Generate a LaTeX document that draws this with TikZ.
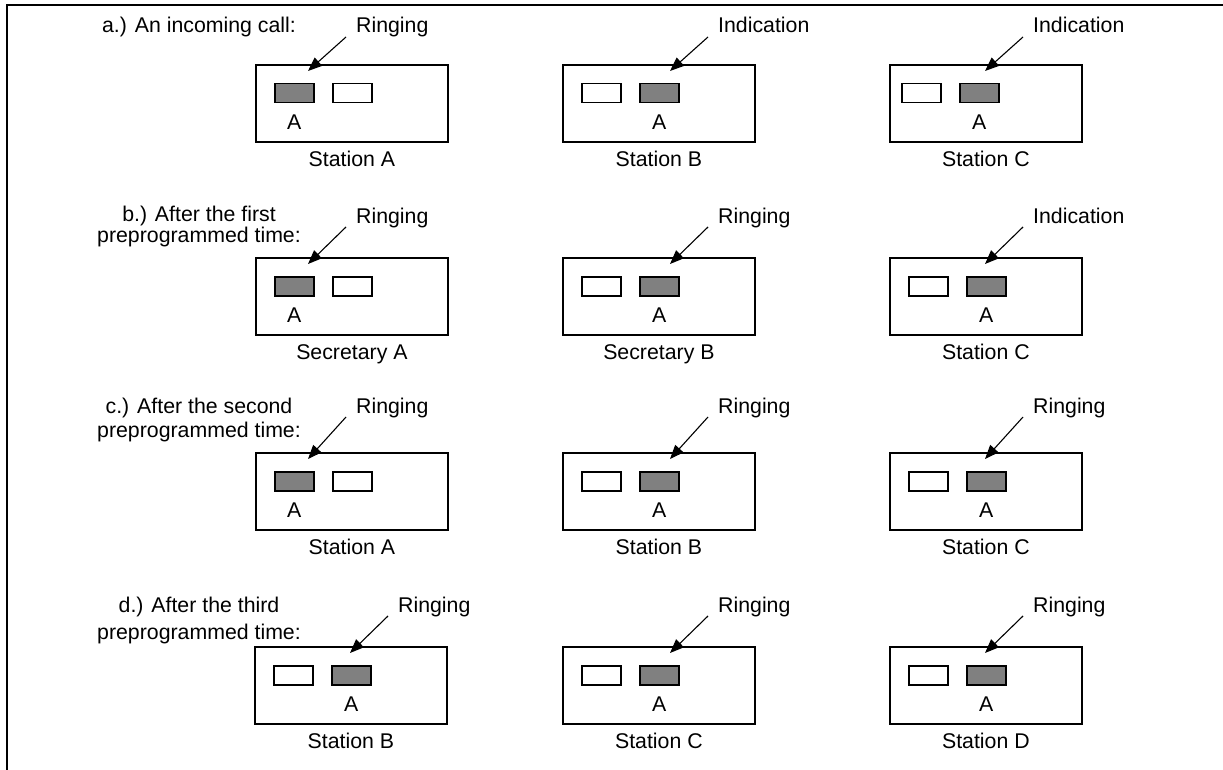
\documentclass[tikz,border=0pt]{standalone}
\usepackage{fontspec}
\setmainfont{Liberation Sans}
\usetikzlibrary{arrows.meta,calc}
\definecolor{keygray}{HTML}{808080}
\tikzset{
  station/.style={draw, line width=1.8pt, minimum width=192pt, minimum height=77pt, inner sep=0pt, anchor=north west},
  keyoff/.style={draw, line width=1.5pt, fill=white, minimum width=39pt, minimum height=19pt, inner sep=0pt, anchor=north west},
  keyon/.style={keyoff, fill=keygray},
  txt/.style={font=\fontsize{21.3}{24}\selectfont, inner sep=0pt, anchor=base},
  ptr/.style={line width=1.1pt, -{Triangle[length=14pt,width=11pt]}},
}
% #1 name, #2 left, #3 top, #4 first key x, #5 filled key (1/2), #6 station name, #7 pointer label, #8 arrow tip x
\newcommand{\stationbox}[8]{%
  \node[station] (#1) at (#2,#3) {};
  \ifnum#5=1
    \node[keyon] (#1-on) at (#4,{#3+19}) {};
    \node[keyoff] (#1-off) at ({#4+58},{#3+19}) {};
  \else
    \node[keyoff] (#1-off) at (#4,{#3+19}) {};
    \node[keyon] (#1-on) at ({#4+58},{#3+19}) {};
  \fi
  \node[txt] (#1-a) at ($(#1-on.south)+(0,26)$) {A};
  \node[txt] (#1-n) at ($(#1.south)+(0,24)$) {#6};
  \node[txt, anchor=base west] (#1-l) at ({#8+48},\labbase) {#7};
  \coordinate (#1-s) at ({#8+38},{\labbase+4});
  \coordinate (#1-t) at (#8,{#3+7});
  \draw[ptr] (#1-s) -- (#1-t);
}
\begin{document}
\begin{tikzpicture}[x=1pt,y=-1pt]
\useasboundingbox (0,0) rectangle (1223,770);
\draw[line width=2pt] (7,770) -- (7,5) -- (1223,5);

% row a
\def\labbase{33}
\node[txt] (la) at (199,33) {a.) An incoming call:};
\stationbox{aA}{255}{64}{274}{1}{Station A}{Ringing}{308}
\stationbox{aB}{562}{64}{581}{2}{Station B}{Indication}{670}
\stationbox{aC}{889}{64}{901}{2}{Station C}{Indication}{985}

% row b
\def\labbase{223}
\node[txt] (lb1) at (199,222) {b.) After the first};
\node[txt] (lb2) at (199,242) {preprogrammed time:};
\stationbox{bA}{255}{257}{274}{1}{Secretary A}{Ringing}{308}
\stationbox{bB}{562}{257}{581}{2}{Secretary B}{Ringing}{670}
\stationbox{bC}{889}{257}{908}{2}{Station C}{Indication}{985}

% row c
\def\labbase{413}
\node[txt] (lc1) at (199,413) {c.) After the second};
\node[txt] (lc2) at (199,437) {preprogrammed time:};
\stationbox{cA}{255}{452}{274}{1}{Station A}{Ringing}{308}
\stationbox{cB}{562}{452}{581}{2}{Station B}{Ringing}{670}
\stationbox{cC}{889}{452}{908}{2}{Station C}{Ringing}{985}

% row d
\def\labbase{612}
\node[txt] (ld1) at (199,612) {d.) After the third};
\node[txt] (ld2) at (199,639) {preprogrammed time:};
\stationbox{dA}{254}{646}{273}{2}{Station B}{Ringing}{350}
\stationbox{dB}{562}{646}{581}{2}{Station C}{Ringing}{670}
\stationbox{dC}{889}{646}{908}{2}{Station D}{Ringing}{985}
\end{tikzpicture}
\end{document}
